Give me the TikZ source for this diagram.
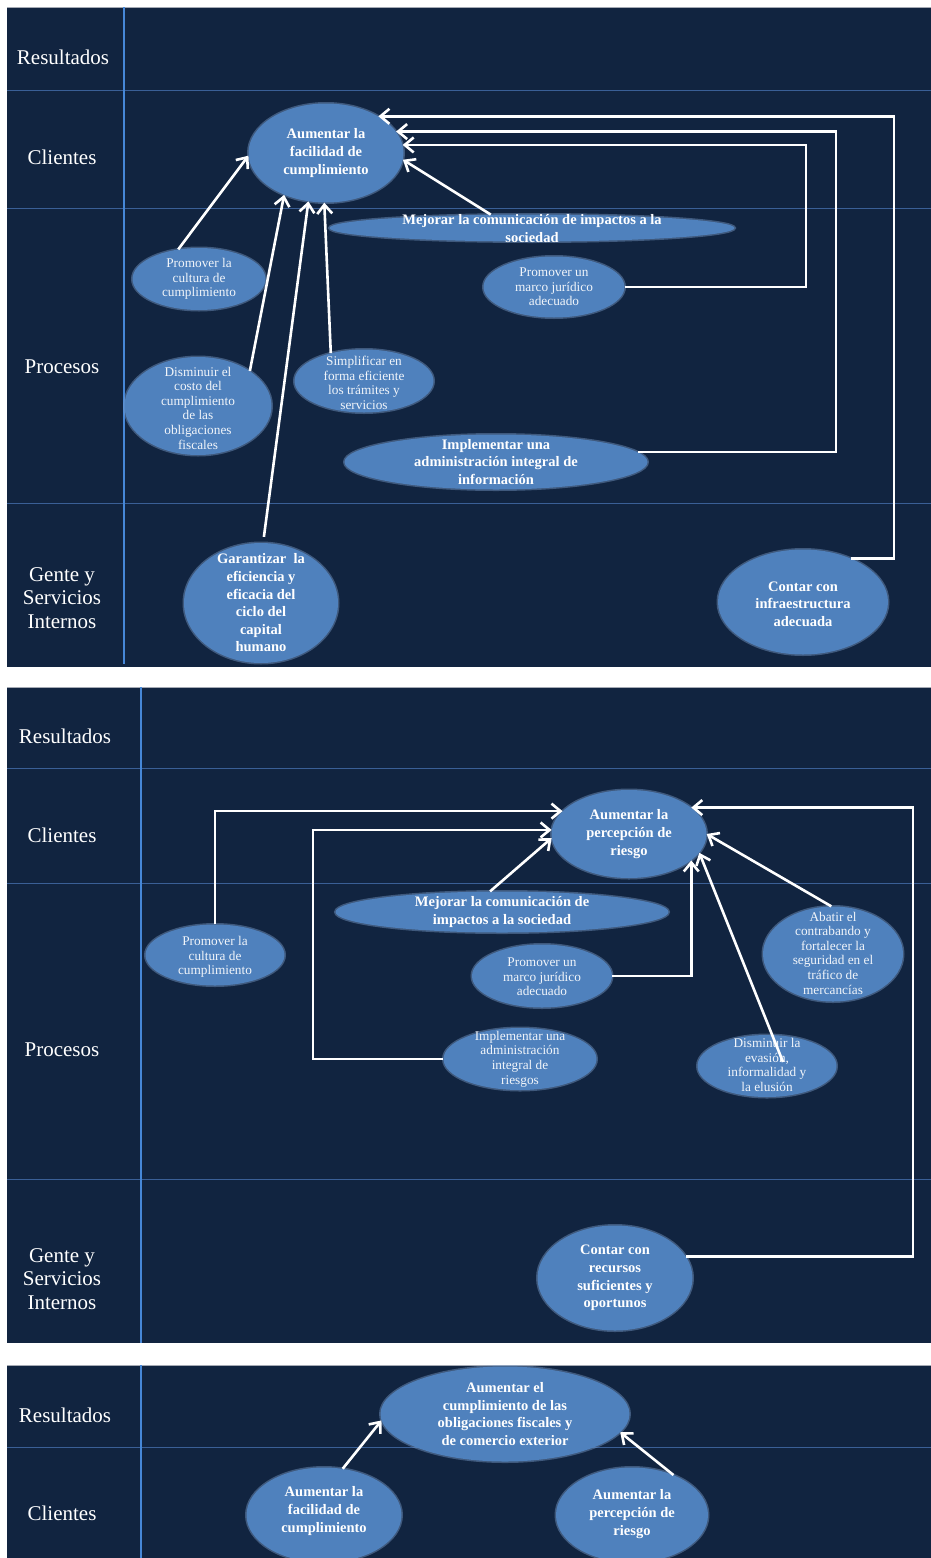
\documentclass[tikz,border=0pt]{standalone}
\usepackage{fontspec}
\setmainfont{Liberation Serif}
\usetikzlibrary{arrows.meta,shapes.geometric,calc}
\definecolor{navy}{RGB}{17,36,64}
\definecolor{ovalblue}{RGB}{79,129,189}
\definecolor{ovalhalo}{RGB}{120,155,200}
\definecolor{laneline}{RGB}{58,95,150}
\definecolor{divider}{RGB}{70,135,215}
\definecolor{framegray}{RGB}{165,170,180}
\newcommand\lanefont{\fontsize{21}{23.5}\selectfont}
\newcommand\boldfont{\bfseries\fontsize{14.5}{17.6}\selectfont}
\newcommand\plainfont{\fontsize{13.3}{14.6}\selectfont}
\begin{document}
\begin{tikzpicture}[x=1pt,y=-1pt,
  panel/.style={fill=navy},
  topedge/.style={draw=framegray, line width=1pt},
  lane/.style={draw=laneline, line width=1pt},
  divline/.style={draw=divider, line width=2pt},
  lanelabel/.style={text=white, font=\lanefont, align=center, inner sep=0pt},
  oval/.style={ellipse, fill=ovalblue, inner sep=0pt,
    preaction={draw=ovalhalo, draw opacity=0.45, line width=3pt}},
  bt/.style={text=white, font=\boldfont, align=center, inner sep=0pt},
  rt/.style={text=white!92!ovalblue, font=\plainfont, align=center, inner sep=0pt},
  arr/.style={draw=white, line width=2.6pt, -{Straight Barb[length=9pt,width=15pt,line width=2.6pt]}},
]
\fill[white] (0,0) rectangle (931,1558);
\useasboundingbox (0,0) rectangle (931,1558);

% ---------- first map: facilidad de cumplimiento ----------
\fill[panel] (7,7) rectangle (931,667);
\draw[topedge] (7,7) -- (931,7);
\draw[lane] (7,90) -- (931,90);
\draw[lane] (7,208) -- (931,208);
\draw[lane] (7,503) -- (931,503);
\draw[divline] (123.5,7) -- (123.5,664);

\node[lanelabel] (p1res) at (63,57) {Resultados};
\node[lanelabel] (p1cli) at (62,157) {Clientes};
\node[lanelabel] (p1pro) at (62,367) {Procesos};
\node[lanelabel] (p1gen) at (62,598) {Gente y\\Servicios\\Internos};

\node[oval, minimum width=155, minimum height=99] (A1) at (326,153) {};
\node[bt] (A1t) at (A1) {Aumentar la\\facilidad de\\cumplimiento};
\node[oval, minimum width=405, minimum height=27] (mej1) at (532,228) {};
\node[bt] (mej1t) at (532,228.5) {Mejorar la comunicación de impactos a la\\sociedad};
\node[oval, minimum width=133, minimum height=62] (cult1) at (199,279) {};
\node[rt] (cult1t) at (cult1) {Promover la\\cultura de\\cumplimiento};
\node[oval, minimum width=141, minimum height=61] (marco1) at (554,287) {};
\node[rt] (marco1t) at (marco1) {Promover un\\marco jurídico\\adecuado};
\node[oval, minimum width=147, minimum height=98] (dism) at (198,406) {};
\node[rt] (dismt) at (198,408) {Disminuir el\\costo del\\cumplimiento\\de las\\obligaciones\\fiscales};
\node[oval, minimum width=139, minimum height=63] (simp) at (364,381) {};
\node[rt] (simpt) at (364,383) {Simplificar en\\forma eficiente\\los trámites y\\servicios};
\node[oval, minimum width=303, minimum height=55] (impl1) at (496,462) {};
\node[bt] (impl1t) at (impl1) {Implementar una\\administración integral de\\información};
\node[oval, minimum width=154, minimum height=120] (garant) at (261,603) {};
\node[bt] (garantt) at (garant) {Garantizar~ la\\eficiencia y\\eficacia del\\ciclo del\\capital\\humano};
\node[oval, minimum width=170, minimum height=105] (infra) at (803,602) {};
\node[bt] (infrat) at (803,604) {Contar con\\infraestructura\\adecuada};

\coordinate (k1) at (806,0);
\coordinate (k2) at (836,0);
\coordinate (k3) at (894,0);
\draw[arr] (cult1.125) -- (A1.182);
\draw[arr] (dism.34) -- (A1.225);
\draw[arr, shorten <=6pt] (garant.88) -- (A1.250);
\draw[arr] (simp.140) -- (A1.268);
\draw[arr] (mej1.162) -- (A1.355);
\draw[arr] (marco1.east) -| (k1 |- A1.6) -- (A1.6);
\draw[arr] (impl1.4) -| (k2 |- A1.17) -- (A1.17);
\draw[arr] (infra.42) -| (k3 |- A1.35) -- (A1.35);

% ---------- second map: percepcion de riesgo ----------
\fill[panel] (7,687) rectangle (931,1343);
\draw[topedge] (7,687) -- (931,687);
\draw[lane] (7,768) -- (931,768);
\draw[lane] (7,883) -- (931,883);
\draw[lane] (7,1179) -- (931,1179);
\draw[divline] (141,687) -- (141,1343);

\node[lanelabel] (p2res) at (65,736) {Resultados};
\node[lanelabel] (p2cli) at (62,835) {Clientes};
\node[lanelabel] (p2pro) at (62,1050) {Procesos};
\node[lanelabel] (p2gen) at (62,1279) {Gente y\\Servicios\\Internos};

\node[oval, minimum width=155, minimum height=88] (B1) at (629,834) {};
\node[bt] (B1t) at (B1) {Aumentar la\\percepción de\\riesgo};
\node[oval, minimum width=333, minimum height=41] (mej2) at (502,912) {};
\node[bt] (mej2t) at (mej2) {Mejorar la comunicación de\\impactos a la sociedad};
\node[oval, minimum width=139, minimum height=61] (cult2) at (215,955) {};
\node[rt] (cult2t) at (215,957) {Promover la\\cultura de\\cumplimiento};
\node[oval, minimum width=140, minimum height=63] (marco2) at (542,976) {};
\node[rt] (marco2t) at (542,977) {Promover un\\marco jurídico\\adecuado};
\node[oval, minimum width=140, minimum height=95] (abat) at (833,954) {};
\node[rt] (abatt) at (833,953) {Abatir el\\contrabando y\\fortalecer la\\seguridad en el\\tráfico de\\mercancías};
\node[oval, minimum width=153, minimum height=62] (riesg) at (520,1059) {};
\node[rt] (riesgt) at (520,1059) {Implementar una\\administración\\integral de\\riesgos};
\node[oval, minimum width=139, minimum height=62] (evas) at (767,1066) {};
\node[rt] (evast) at (767,1065) {Disminuir la\\evasión,\\informalidad y\\la elusión};
\node[oval, minimum width=155, minimum height=105] (recur) at (615,1278) {};
\node[bt] (recurt) at (recur) {Contar con\\recursos\\suficientes y\\oportunos};

\coordinate (k4) at (313,0);
\coordinate (k5) at (913,0);
\draw[arr] (cult2.north) |- (B1.161);
\draw[arr] (riesg.west) -| (k4 |- B1.177) -- (B1.177);
\draw[arr] (mej2.120) -- (B1.183);
\draw[arr] (marco2.east) -| (B1.337);
\draw[arr] ([xshift=16pt,yshift=4pt]evas.center) -- (B1.345);
\draw[arr] (abat.92) -- (B1.0);
\draw[arr] (recur.17) -| (k5 |- B1.23) -- (B1.23);

% ---------- third map: cumplimiento de obligaciones ----------
\fill[panel] (7,1365) rectangle (931,1558);
\draw[topedge] (7,1365) -- (931,1365);
\draw[lane] (7,1447) -- (931,1447);
\draw[divline] (141,1365) -- (141,1558);

\node[lanelabel] (p3res) at (65,1415) {Resultados};
\node[lanelabel] (p3cli) at (62,1513) {Clientes};

\node[oval, minimum width=249, minimum height=95] (C0) at (505,1414) {};
\node[bt] (C0t) at (C0) {Aumentar el\\cumplimiento de las\\obligaciones fiscales y\\de comercio exterior};
\node[oval, minimum width=155, minimum height=95] (C1) at (324,1515) {};
\node[bt] (C1t) at (324,1511) {Aumentar la\\facilidad de\\cumplimiento};
\node[oval, minimum width=152, minimum height=95] (C2) at (632,1515) {};
\node[bt] (C2t) at (632,1514) {Aumentar la\\percepción de\\riesgo};

\draw[arr] (C1.68) -- (C0.183);
\draw[arr] (C2.44) -- (C0.351);
\end{tikzpicture}
\end{document}
